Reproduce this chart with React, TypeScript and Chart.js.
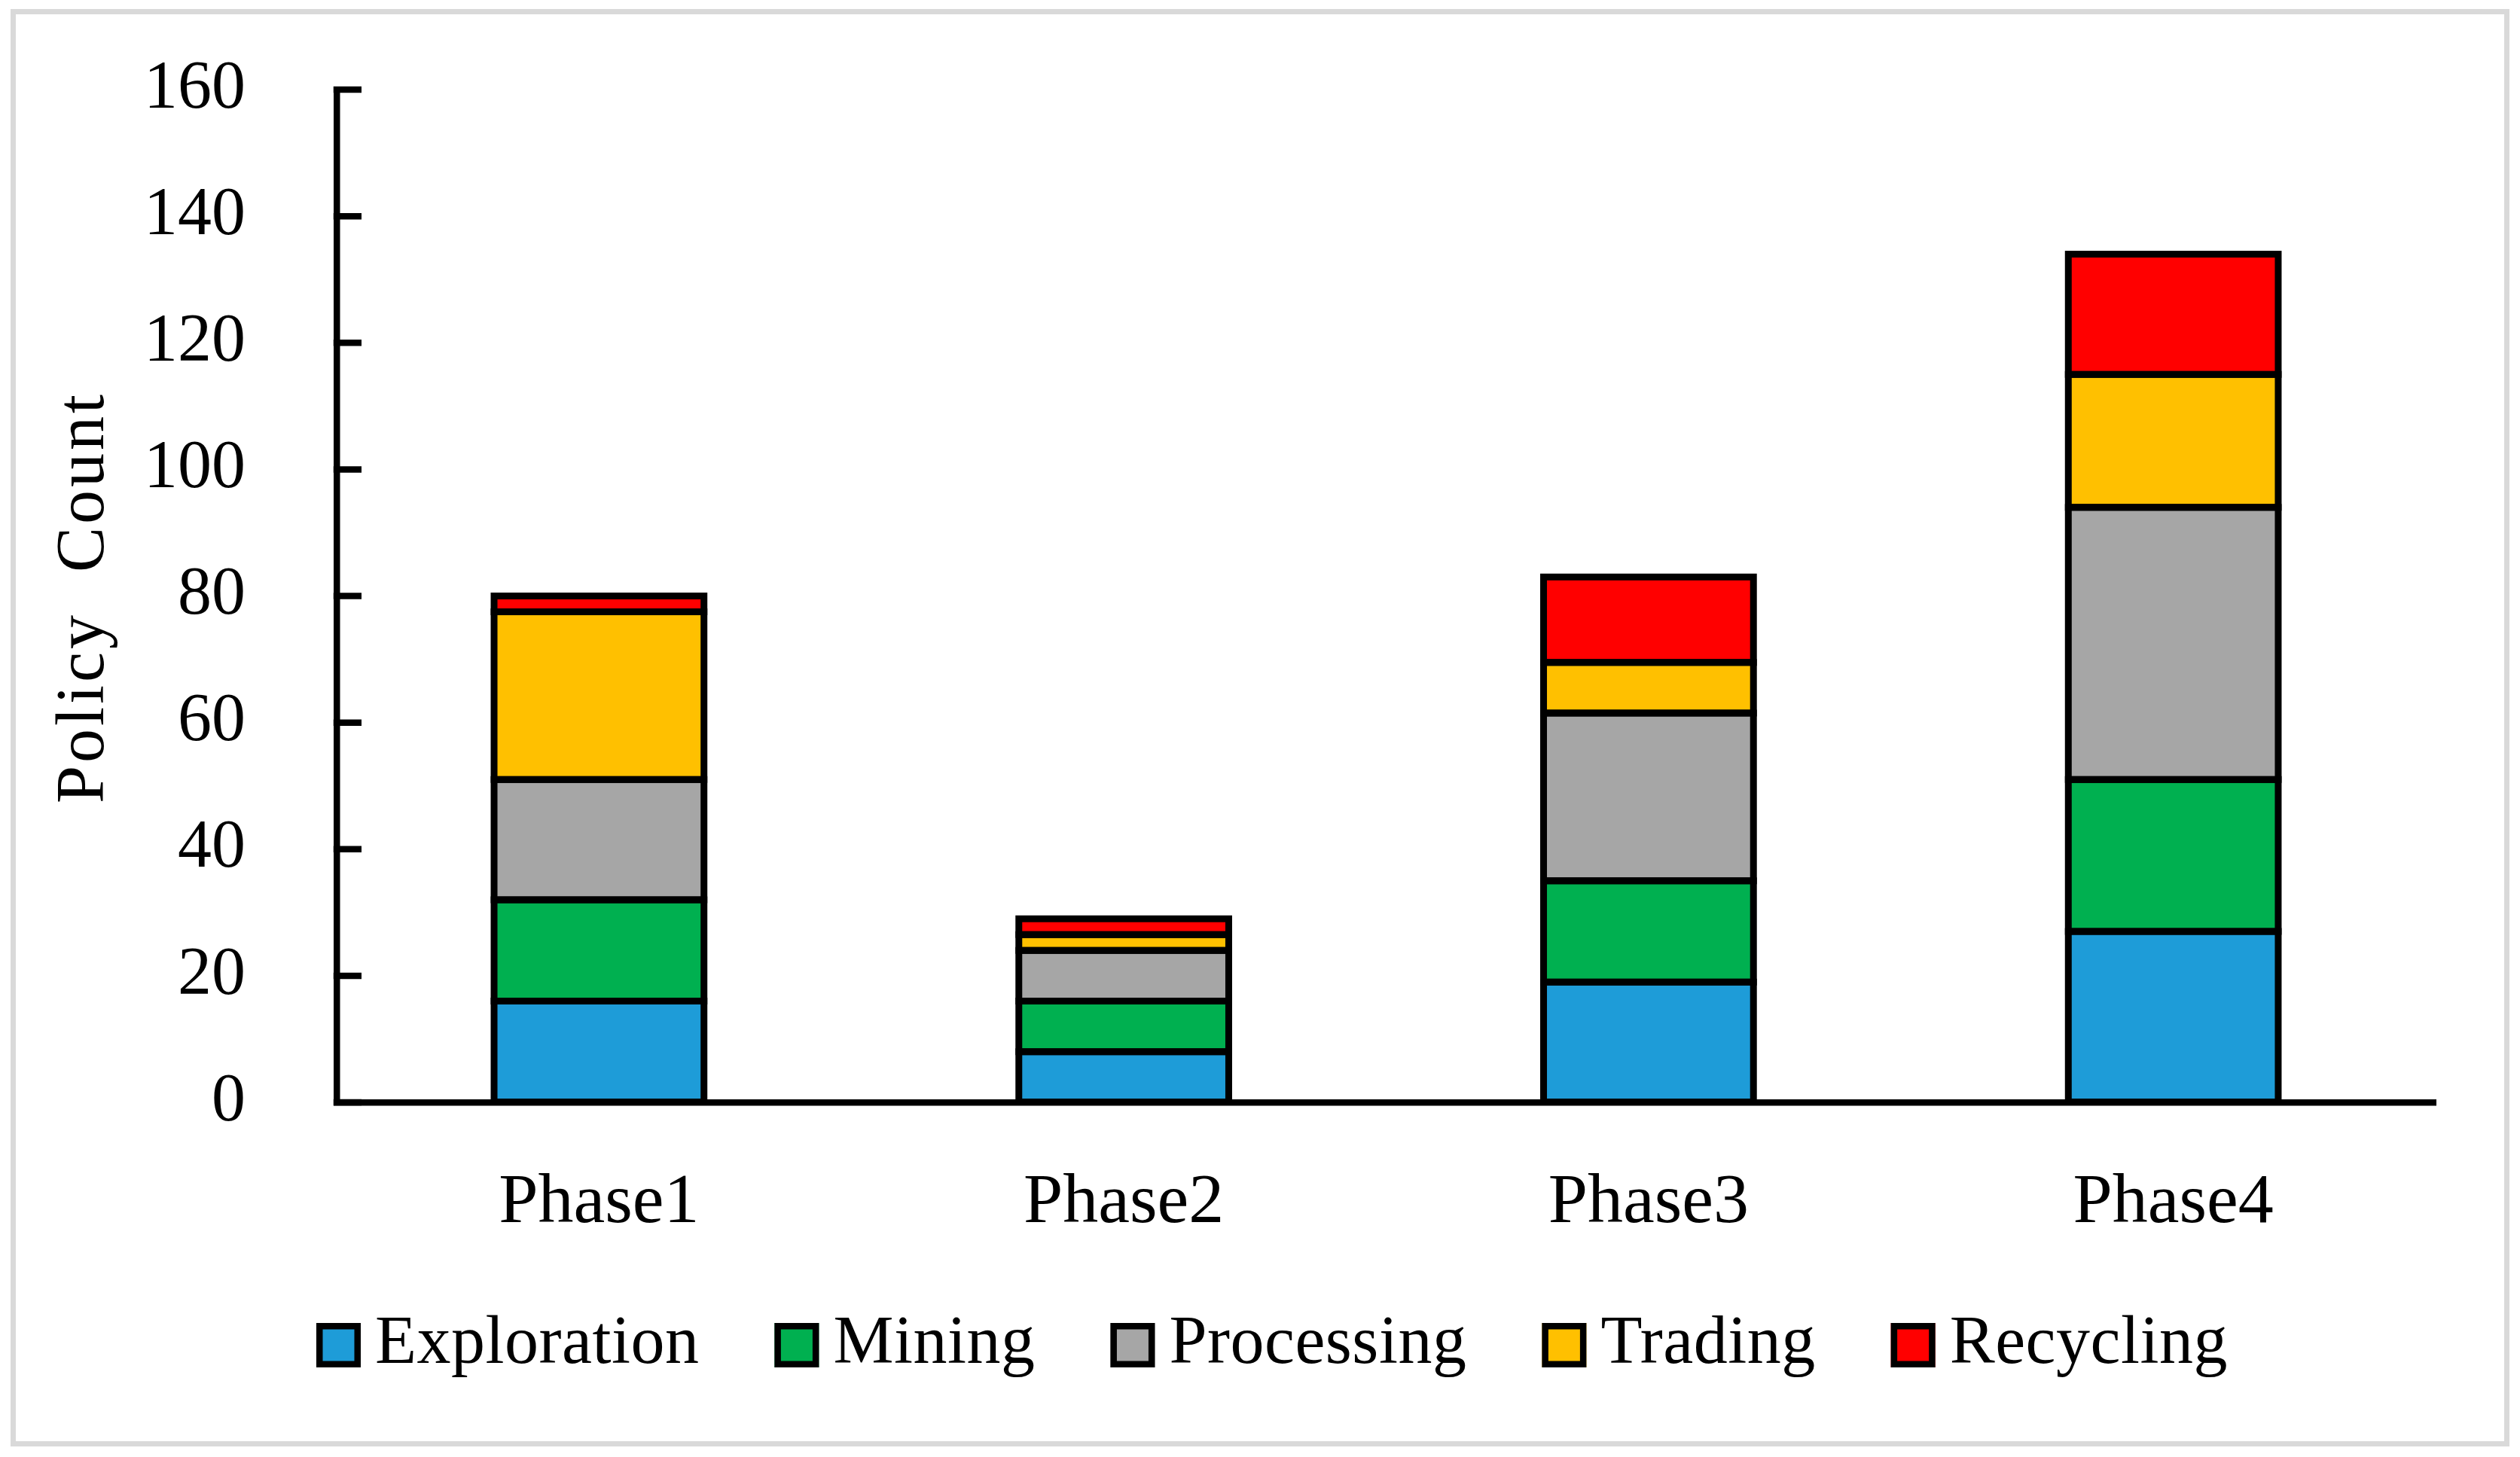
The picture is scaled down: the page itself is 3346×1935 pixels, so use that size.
import React, { useEffect, useRef } from "react";
import { Chart, registerables } from "chart.js";

Chart.register(...registerables);

const categories = ["Phase1", "Phase2", "Phase3", "Phase4"];
const exploration = [16, 8, 19, 27];
const mining = [16, 8, 16, 24];
const processing = [19, 8, 26.5, 43];
const trading = [26.5, 2.5, 8, 21];
const recycling = [2.5, 2.5, 13.5, 19];
const seriesNames = ["Exploration", "Mining", "Processing", "Trading", "Recycling"];
const seriesColors = ["#1E9CD8", "#00B050", "#A6A6A6", "#FFC000", "#FF0000"];
const yTicks = [0, 20, 40, 60, 80, 100, 120, 140, 160];
const yTitle = "Policy  Count";

const W = 3346;
const H = 1935;
const FONT = '"Liberation Serif", "Times New Roman", serif';

const barOutline = {
  id: "barOutline",
  afterDatasetsDraw(chart: any) {
    const ctx = chart.ctx;
    ctx.save();
    ctx.strokeStyle = "#000";
    ctx.lineWidth = 9;
    ctx.lineJoin = "miter";
    chart.data.datasets.forEach((_d: any, i: number) => {
      const meta = chart.getDatasetMeta(i);
      meta.data.forEach((el: any) => {
        const p = el.getProps(["x", "y", "base", "width"], true);
        ctx.strokeRect(p.x - p.width / 2, p.y, p.width, p.base - p.y);
      });
    });
    // inward y ticks
    const ys = chart.scales.y;
    const left = chart.chartArea.left;
    ctx.lineWidth = 8.5;
    ctx.lineCap = "butt";
    yTicks.forEach((v) => {
      const py = ys.getPixelForValue(v);
      ctx.beginPath();
      ctx.moveTo(left - 4.25, py);
      ctx.lineTo(left + 33, py);
      ctx.stroke();
    });
    ctx.restore();
  },
};

const extras = {
  id: "extras",
  afterDraw(chart: any) {
    const ctx = chart.ctx;
    ctx.save();
    // outer frame
    ctx.strokeStyle = "#D9D9D9";
    ctx.lineWidth = 7;
    ctx.strokeRect(17.5, 15.5, 3311, 1902);

    // y axis title
    const ca = chart.chartArea;
    ctx.save();
    ctx.translate(137, (ca.top + ca.bottom) / 2 + 2);
    ctx.rotate(-Math.PI / 2);
    ctx.fillStyle = "#000";
    ctx.font = `90px ${FONT}`;
    try { (ctx as any).letterSpacing = "4px"; } catch (e) {}
    ctx.textAlign = "center";
    ctx.textBaseline = "alphabetic";
    ctx.fillText(yTitle, 0, 0);
    ctx.restore();

    // legend
    ctx.font = `90px ${FONT}`;
    try { (ctx as any).letterSpacing = "0.5px"; } catch (e) {}
    const BOX = 59, GAP = 19, ITEMGAP = 100, CX = 1689, BOXTOP = 1757, BASE = 1810;
    const items = chart.data.datasets.map((d: any) => ({
      label: d.label,
      color: d.backgroundColor,
      w: ctx.measureText(d.label).width,
    }));
    const total = items.reduce((s: number, it: any) => s + BOX + GAP + it.w, 0) + ITEMGAP * (items.length - 1);
    let x = CX - total / 2;
    items.forEach((it: any) => {
      ctx.fillStyle = it.color;
      ctx.fillRect(x, BOXTOP, BOX, BOX);
      ctx.strokeStyle = "#000";
      ctx.lineWidth = 8.5;
      ctx.strokeRect(x + 4.25, BOXTOP + 4.25, BOX - 8.5, BOX - 8.5);
      ctx.fillStyle = "#000";
      ctx.textAlign = "left";
      ctx.textBaseline = "alphabetic";
      ctx.fillText(it.label, x + BOX + GAP, BASE);
      x += BOX + GAP + it.w + ITEMGAP;
    });
    ctx.restore();
  },
};

export default function App() {
  const ref = useRef<HTMLCanvasElement | null>(null);
  useEffect(() => {
    document.body.style.margin = "0";
    const canvas = ref.current;
    if (!canvas) return;
    const values = [exploration, mining, processing, trading, recycling];
    const chart = new Chart(canvas, {
      type: "bar",
      data: {
        labels: categories,
        datasets: seriesNames.map((name, i) => ({
          label: name,
          data: values[i],
          backgroundColor: seriesColors[i],
          borderWidth: 0,
          barPercentage: 0.4,
          categoryPercentage: 1,
        })),
      },
      options: {
        animation: false,
        responsive: false,
        devicePixelRatio: 1,
        layout: { padding: { top: 119, right: W - 3234, bottom: 0, left: 0 } },
        plugins: { legend: { display: false }, tooltip: { enabled: false } },
        scales: {
          x: {
            stacked: true,
            grid: { display: true, drawOnChartArea: false, drawTicks: false, color: "rgba(0,0,0,0)" },
            border: { display: true, color: "#000", width: 8.5 },
            ticks: { font: { family: FONT, size: 94 }, color: "#000", padding: 78, maxRotation: 0 },
            afterFit: (s: any) => {
              s.height = H - 1464;
              s.paddingLeft = 0;
              s.paddingRight = 0;
            },
          },
          y: {
            stacked: true,
            min: 0,
            max: 160,
            grid: { display: true, drawOnChartArea: false, drawTicks: false, color: "rgba(0,0,0,0)" },
            border: { display: true, color: "#000", width: 8.5 },
            ticks: { stepSize: 20, font: { family: FONT, size: 90 }, color: "#000", padding: 121 },
            afterFit: (s: any) => {
              s.width = 447;
              s.paddingTop = 0;
              s.paddingBottom = 0;
            },
          },
        },
      },
      plugins: [barOutline, extras],
    } as any);
    return () => chart.destroy();
  }, []);
  return (
    <div style={{ width: W, height: H, background: "#fff" }}>
      <canvas ref={ref} width={W} height={H} style={{ width: W, height: H, display: "block" }} />
    </div>
  );
}
